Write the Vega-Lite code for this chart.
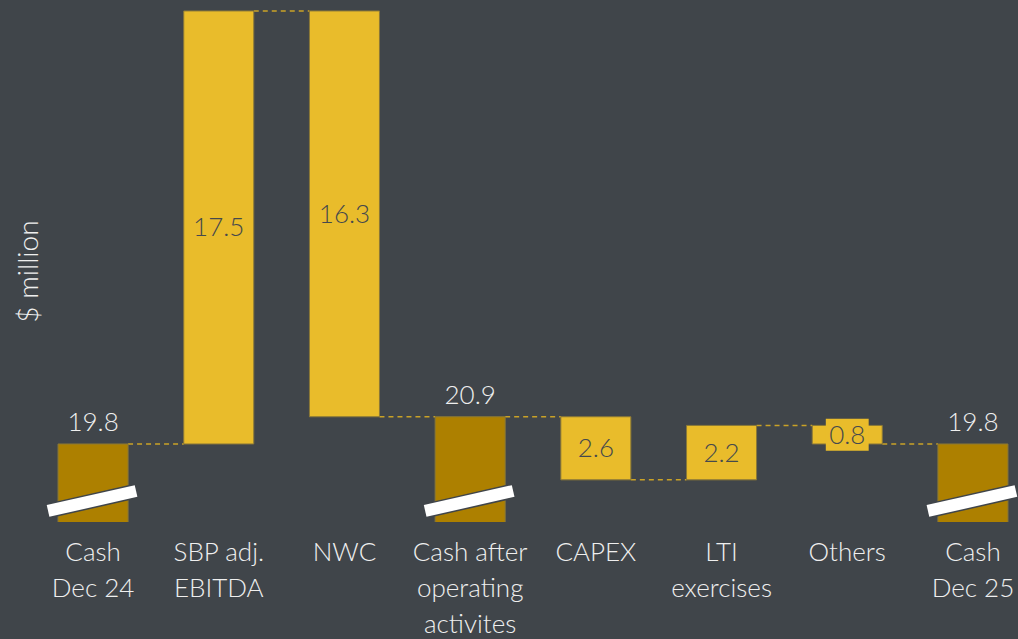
{
  "$schema": "https://vega.github.io/schema/vega-lite/v6.json",
  "width": 970,
  "height": 517,
  "autosize": {"type": "none"},
  "padding": {"left": 48, "top": 5, "right": 0, "bottom": 117},
  "background": "#40454a",
  "config": {"view": {"stroke": null}, "font": "Lato"},
  "resolve": {"axis": {"x": "independent", "y": "independent"}},
  "datasets": {
    "steps": [
      {"cat": "Cash|Dec 24", "start": 0, "end": 19.8, "type": "total", "lbl": "19.8"},
      {"cat": "SBP adj.|EBITDA", "start": 19.8, "end": 37.3, "type": "delta", "lbl": "17.5"},
      {"cat": "NWC", "start": 37.3, "end": 20.9, "type": "delta", "lbl": "16.3"},
      {"cat": "Cash after|operating|activites", "start": 0, "end": 20.9, "type": "total", "lbl": "20.9"},
      {"cat": "CAPEX", "start": 20.9, "end": 18.35, "type": "delta", "lbl": "2.6"},
      {"cat": "LTI|exercises", "start": 18.35, "end": 20.55, "type": "delta", "lbl": "2.2"},
      {"cat": "Others", "start": 20.55, "end": 19.8, "type": "delta", "lbl": "0.8"},
      {"cat": "Cash|Dec 25", "start": 0, "end": 19.8, "type": "total", "lbl": "19.8"}
    ],
    "links": [
      {"from": "Cash|Dec 24", "to": "SBP adj.|EBITDA", "level": 19.8},
      {"from": "SBP adj.|EBITDA", "to": "NWC", "level": 37.3},
      {"from": "NWC", "to": "Cash after|operating|activites", "level": 20.9},
      {"from": "Cash after|operating|activites", "to": "CAPEX", "level": 20.9},
      {"from": "CAPEX", "to": "LTI|exercises", "level": 18.35},
      {"from": "LTI|exercises", "to": "Others", "level": 20.55},
      {"from": "Others", "to": "Cash|Dec 25", "level": 19.8}
    ]
  },
  "layer": [
    {
      "data": {"name": "links"},
      "mark": {"type": "rule", "color": "#c9a227", "strokeWidth": 1.5, "strokeDash": [5, 4], "xOffset": 35, "x2Offset": -35},
      "encoding": {
        "x": {"field": "from", "type": "nominal", "sort": null, "axis": null,
              "scale": {"domain": ["Cash|Dec 24", "SBP adj.|EBITDA", "NWC", "Cash after|operating|activites", "CAPEX", "LTI|exercises", "Others", "Cash|Dec 25"], "paddingInner": 0.443, "paddingOuter": 0.08}},
        "x2": {"field": "to"},
        "y": {"field": "level", "type": "quantitative", "axis": null,
              "scale": {"domain": [16.647, 37.54], "zero": false, "nice": false}}
      }
    },
    {
      "data": {"name": "steps"},
      "mark": {"type": "bar", "clip": true, "stroke": "#8a7838", "strokeWidth": 1},
      "encoding": {
        "x": {"field": "cat", "type": "nominal", "sort": null,
              "scale": {"domain": ["Cash|Dec 24", "SBP adj.|EBITDA", "NWC", "Cash after|operating|activites", "CAPEX", "LTI|exercises", "Others", "Cash|Dec 25"], "paddingInner": 0.443, "paddingOuter": 0.08},
              "axis": {"title": null, "labelAngle": 0, "domain": false, "ticks": false, "grid": false, "labelExpr": "split(datum.label, '|')",
                       "labelColor": "#efefef", "labelFont": "Lato", "labelFontSize": 26, "labelFontWeight": 300,
                       "labelLineHeight": 36, "labelPadding": 17, "labelBaseline": "top"}},
        "y": {"field": "end", "type": "quantitative",
              "scale": {"domain": [16.647, 37.54], "zero": false, "nice": false},
              "axis": {"title": "$ million", "labels": false, "ticks": false, "domain": false, "grid": false,
                       "titleColor": "#efefef", "titleFont": "Lato", "titleFontSize": 28, "titleFontWeight": 300,
                       "titleX": -19, "titleY": 266, "titleAngle": -90, "titleAlign": "center", "titleBaseline": "middle"}},
        "y2": {"field": "start"},
        "color": {"field": "type", "type": "nominal", "legend": null,
                  "scale": {"domain": ["total", "delta"], "range": ["#ad8000", "#e9bc2b"]}}
      }
    },
    {
      "data": {"name": "steps"},
      "transform": [{"filter": "datum.type == 'total'"}],
      "mark": {"type": "rule", "color": "#40454a", "strokeWidth": 15, "strokeCap": "butt", "xOffset": -45, "x2Offset": 43},
      "encoding": {
        "x": {"field": "cat", "type": "nominal", "sort": null, "axis": null},
        "x2": {"field": "cat"},
        "y": {"datum": 17.093, "type": "quantitative", "axis": null},
        "y2": {"datum": 17.9}
      }
    },
    {
      "data": {"name": "steps"},
      "transform": [{"filter": "datum.type == 'total'"}],
      "mark": {"type": "rule", "color": "#ffffff", "strokeWidth": 12, "strokeCap": "butt", "xOffset": -45, "x2Offset": 43},
      "encoding": {
        "x": {"field": "cat", "type": "nominal", "sort": null, "axis": null},
        "x2": {"field": "cat"},
        "y": {"datum": 17.093, "type": "quantitative", "axis": null},
        "y2": {"datum": 17.9}
      }
    },
    {
      "data": {"name": "steps"},
      "transform": [
        {"filter": "datum.cat == 'Others'"},
        {"fold": ["start", "end"], "as": ["k", "v"]},
        {"aggregate": [{"op": "mean", "field": "v", "as": "mid"}], "groupby": ["cat"]}
      ],
      "mark": {"type": "point", "shape": "M-1.34,-1H1.34V1H-1.34Z", "size": 1024, "filled": true, "color": "#e9bc2b", "opacity": 1, "strokeWidth": 0},
      "encoding": {
        "x": {"field": "cat", "type": "nominal", "sort": null, "axis": null},
        "y": {"field": "mid", "type": "quantitative", "axis": null}
      }
    },
    {
      "data": {"name": "steps"},
      "transform": [{"filter": "datum.type == 'total'"}],
      "mark": {"type": "text", "font": "Lato", "fontSize": 26, "fontWeight": 300, "color": "#efefef", "baseline": "alphabetic", "dy": -13},
      "encoding": {
        "x": {"field": "cat", "type": "nominal", "sort": null, "axis": null},
        "y": {"field": "end", "type": "quantitative", "axis": null},
        "text": {"field": "lbl"}
      }
    },
    {
      "data": {"name": "steps"},
      "transform": [
        {"filter": "datum.type != 'total'"},
        {"fold": ["start", "end"], "as": ["k", "v"]},
        {"aggregate": [{"op": "mean", "field": "v", "as": "mid"}], "groupby": ["cat", "lbl"]}
      ],
      "mark": {"type": "text", "font": "Lato", "fontSize": 26, "fontWeight": 300, "color": "#45494d", "baseline": "middle", "dy": 1},
      "encoding": {
        "x": {"field": "cat", "type": "nominal", "sort": null, "axis": null},
        "y": {"field": "mid", "type": "quantitative", "axis": null},
        "text": {"field": "lbl"}
      }
    }
  ]
}
